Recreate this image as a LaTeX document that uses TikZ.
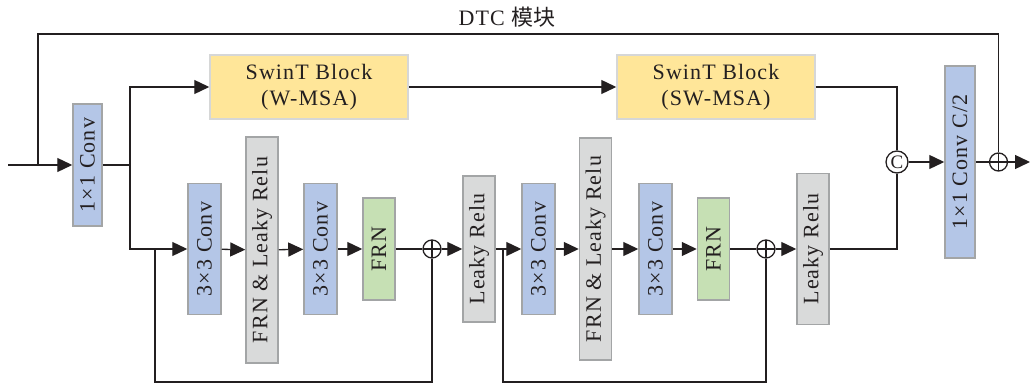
\documentclass[tikz,border=0pt]{standalone}
\usepackage{fontspec}
\setmainfont{Liberation Serif}[LetterSpace=5]
\newfontfamily\cjk{Noto Sans CJK SC}
\usetikzlibrary{arrows.meta,positioning}

\definecolor{wire}{HTML}{231F20}
\definecolor{boxline}{HTML}{A3A5A6}
\definecolor{convblue}{HTML}{B4C6E7}
\definecolor{relugray}{HTML}{D9DADA}
\definecolor{frngreen}{HTML}{C6E0B4}
\definecolor{swinyellow}{HTML}{FFE699}

\newcommand{\vlabel}[1]{\rotatebox{90}{#1}}

\begin{document}
\begin{tikzpicture}[x=1pt, y=-1pt,
    >={Triangle[length=15pt,width=14pt]},
    wire/.style={draw=wire, line width=1.3pt},
    box/.style={draw=boxline, line width=1.5pt, inner sep=0pt, text=wire,
      font=\fontsize{22}{26}\selectfont, align=center},
    convbox/.style={box, fill=convblue, minimum width=33pt, minimum height=131pt},
    relubox/.style={box, fill=relugray, minimum width=32pt},
    frnbox/.style={box, fill=frngreen, minimum width=32pt, minimum height=102pt},
    swinbox/.style={box, draw=boxline!45, fill=swinyellow, minimum width=198pt, minimum height=64pt},
    addop/.style={circle, wire, fill=white, minimum size=18pt, inner sep=0pt,
      path picture={\draw[wire]
        (path picture bounding box.north) -- (path picture bounding box.south)
        (path picture bounding box.west) -- (path picture bounding box.east);}},
    catop/.style={circle, wire, fill=white, minimum size=22pt, inner sep=0pt,
      text=wire, font=\fontsize{19}{19}\selectfont}]
  \useasboundingbox (0,0) rectangle (1030,387);

  % title
  \node[text=wire, font=\fontsize{22}{26}\selectfont] (title) at (507,17) {DTC {\cjk 模块}};

  % input and 1x1 conv
  \coordinate (in) at (8,165);
  \coordinate (tap) at (38,165);
  \coordinate (split) at (130,165);
  \node[box, fill=convblue, minimum width=29pt, minimum height=122pt] (conv1) at (87.5,165) {\vlabel{1×1 Conv}};

  % swin transformer branch
  \node[swinbox] (swin1) at (309,87) {SwinT Block\\(W-MSA)};
  \node[swinbox] (swin2) at (716,87) {SwinT Block\\(SW-MSA)};

  % first residual block
  \node[convbox] (c1) at (204.5,249) {\vlabel{3×3 Conv}};
  \node[relubox, minimum height=226pt] (fl1) at (262,250) {\vlabel{FRN \& Leaky Relu}};
  \node[convbox] (c2) at (320.5,249) {\vlabel{3×3 Conv}};
  \node[frnbox] (frn1) at (379,249) {\vlabel{FRN}};
  \node[addop] (plus1) at (432,249) {};
  \node[relubox, minimum height=146pt] (lr1) at (479,249) {\vlabel{Leaky Relu}};

  % second residual block
  \node[convbox] (c3) at (538.5,249) {\vlabel{3×3 Conv}};
  \node[relubox, minimum height=222pt] (fl2) at (595.5,249) {\vlabel{FRN \& Leaky Relu}};
  \node[convbox] (c4) at (655.5,249) {\vlabel{3×3 Conv}};
  \node[frnbox] (frn2) at (713.5,249) {\vlabel{FRN}};
  \node[addop] (plus2) at (766,249) {};
  \node[relubox, minimum height=151pt] (lr2) at (813,249) {\vlabel{Leaky Relu}};

  % merge and output
  \node[catop] (cat) at (897,162) {C};
  \node[box, fill=convblue, minimum width=30pt, minimum height=192pt] (conv2) at (960,162) {\vlabel{1×1 Conv C/2}};
  \node[addop] (plus3) at (998.5,162) {};
  \coordinate (out) at (1030,162);

  % connections
  \draw[wire,->] (in) -- (conv1);
  \draw[wire] (conv1) -- (split);
  \draw[wire,->] (split) |- (swin1);
  \draw[wire,->] (split) |- (c1);
  \draw[wire,->] (swin1) -- (swin2);
  \draw[wire] (swin2) -| (cat);

  \draw[wire,->] (c1) -- (fl1);
  \draw[wire,->] (fl1) -- (c2);
  \draw[wire,->] (c2) -- (frn1);
  \draw[wire] (frn1) -- (plus1);
  \draw[wire,->] (plus1) -- (lr1);
  \draw[wire,->] (lr1) -- (c3);

  \draw[wire,->] (c3) -- (fl2);
  \draw[wire,->] (fl2) -- (c4);
  \draw[wire,->] (c4) -- (frn2);
  \draw[wire] (frn2) -- (plus2);
  \draw[wire,->] (plus2) -- (lr2);
  \draw[wire] (lr2) -| (cat);

  % skip connections
  \coordinate (skip1) at (155,249);
  \coordinate (skip2) at (503,249);
  \draw[wire] (skip1) -- ++(0,133) -| (plus1);
  \draw[wire] (skip2) -- ++(0,133) -| (plus2);
  \draw[wire] (tap) -- ++(0,-131) -| (plus3);

  \draw[wire,->] (cat) -- (conv2);
  \draw[wire] (conv2) -- (plus3);
  \draw[wire,->] (plus3) -- (out);
\end{tikzpicture}
\end{document}
